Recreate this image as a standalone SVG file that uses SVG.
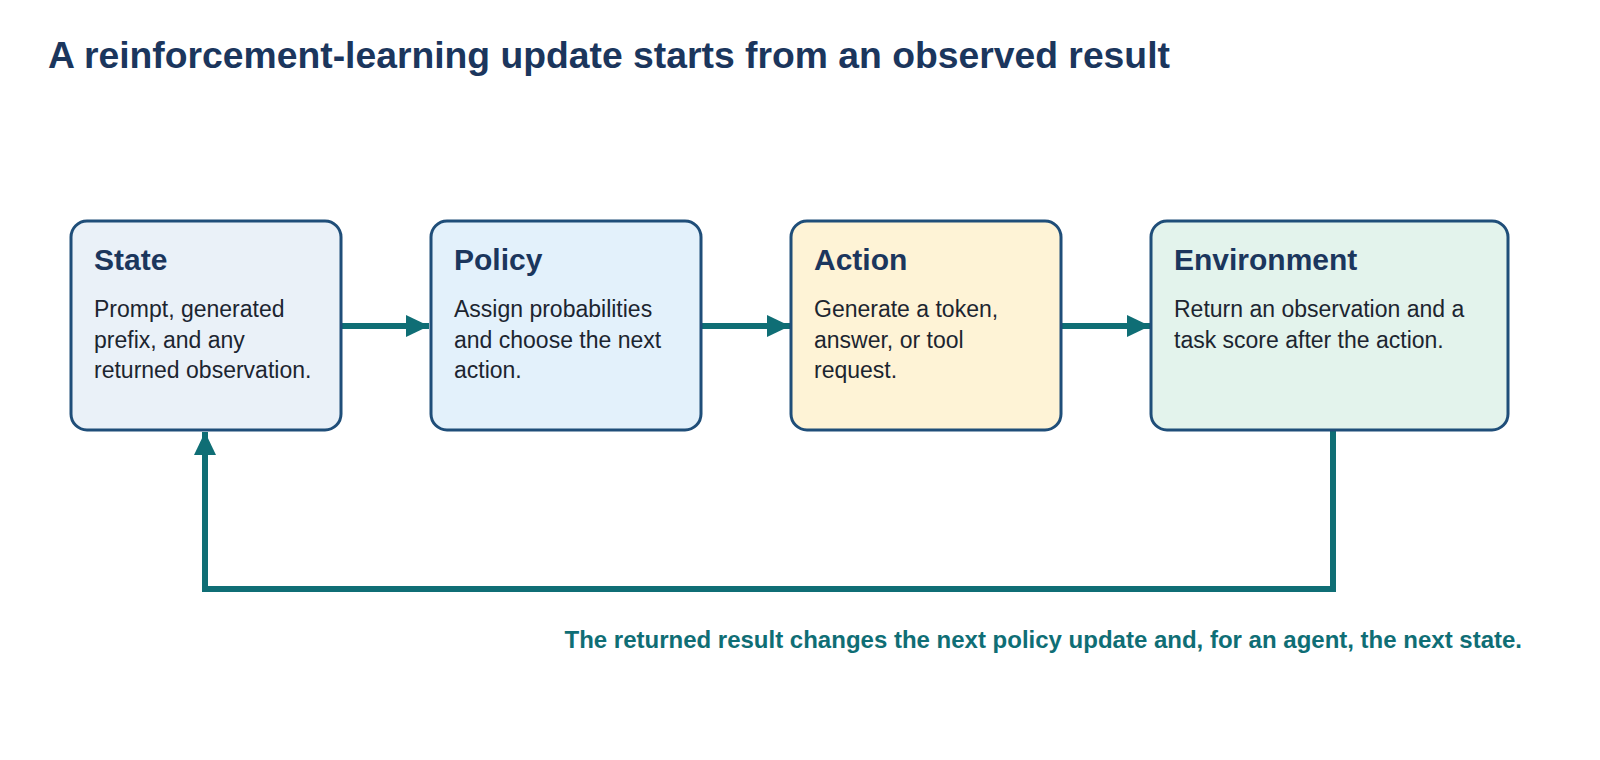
<svg xmlns="http://www.w3.org/2000/svg" width="1600" height="760" viewBox="0 0 1600 760">
<defs>
<style>
.title{font-family:"Liberation Sans",Arial,sans-serif;font-size:37.3px;font-weight:bold;fill:#1b365d}
.box{stroke:#1f4e79;stroke-width:3}
.head{font-family:"Liberation Sans",Arial,sans-serif;font-size:30px;font-weight:bold;fill:#1b365d}
.body{font-family:"Liberation Sans",Arial,sans-serif;font-size:23px;fill:#1c2530}
.conn{fill:none;stroke:#0f6e75;stroke-width:6}
.cap{font-family:"Liberation Sans",Arial,sans-serif;font-size:24px;font-weight:bold;fill:#0f6e75}
</style>
<marker id="ah" viewBox="0 0 23 22" refX="23" refY="11" markerWidth="23" markerHeight="22" markerUnits="userSpaceOnUse" orient="auto">
<path d="M0,0 L23,11 L0,22 Z" fill="#0f6e75"/>
</marker>
</defs>
<rect width="1600" height="760" fill="#ffffff"/>
<text class="title" x="48" y="68">A reinforcement-learning update starts from an observed result</text>
<g id="connectors">
<line class="conn" x1="342" y1="326" x2="429" y2="326" marker-end="url(#ah)"/>
<line class="conn" x1="702" y1="326" x2="790" y2="326" marker-end="url(#ah)"/>
<line class="conn" x1="1062" y1="326" x2="1150" y2="326" marker-end="url(#ah)"/>
<polyline class="conn" points="1333,431 1333,589 205,589 205,432" marker-end="url(#ah)"/>
</g>
<g id="state">
<rect class="box" x="71" y="221" width="270" height="209" rx="16" fill="#eaf1f8"/>
<text class="head" x="94" y="270">State</text>
<text class="body" x="94" y="317">Prompt, generated</text>
<text class="body" x="94" y="347.5">prefix, and any</text>
<text class="body" x="94" y="378">returned observation.</text>
</g>
<g id="policy">
<rect class="box" x="431" y="221" width="270" height="209" rx="16" fill="#e3f1fb"/>
<text class="head" x="454" y="270">Policy</text>
<text class="body" x="454" y="317">Assign probabilities</text>
<text class="body" x="454" y="347.5">and choose the next</text>
<text class="body" x="454" y="378">action.</text>
</g>
<g id="action">
<rect class="box" x="791" y="221" width="270" height="209" rx="16" fill="#fef3d6"/>
<text class="head" x="814" y="270">Action</text>
<text class="body" x="814" y="317">Generate a token,</text>
<text class="body" x="814" y="347.5">answer, or tool</text>
<text class="body" x="814" y="378">request.</text>
</g>
<g id="environment">
<rect class="box" x="1151" y="221" width="357" height="209" rx="16" fill="#e3f3ec"/>
<text class="head" x="1174" y="270">Environment</text>
<text class="body" x="1174" y="317">Return an observation and a</text>
<text class="body" x="1174" y="347.5">task score after the action.</text>
</g>
<text class="cap" x="1522" y="648" text-anchor="end">The returned result changes the next policy update and, for an agent, the next state.</text>
</svg>
